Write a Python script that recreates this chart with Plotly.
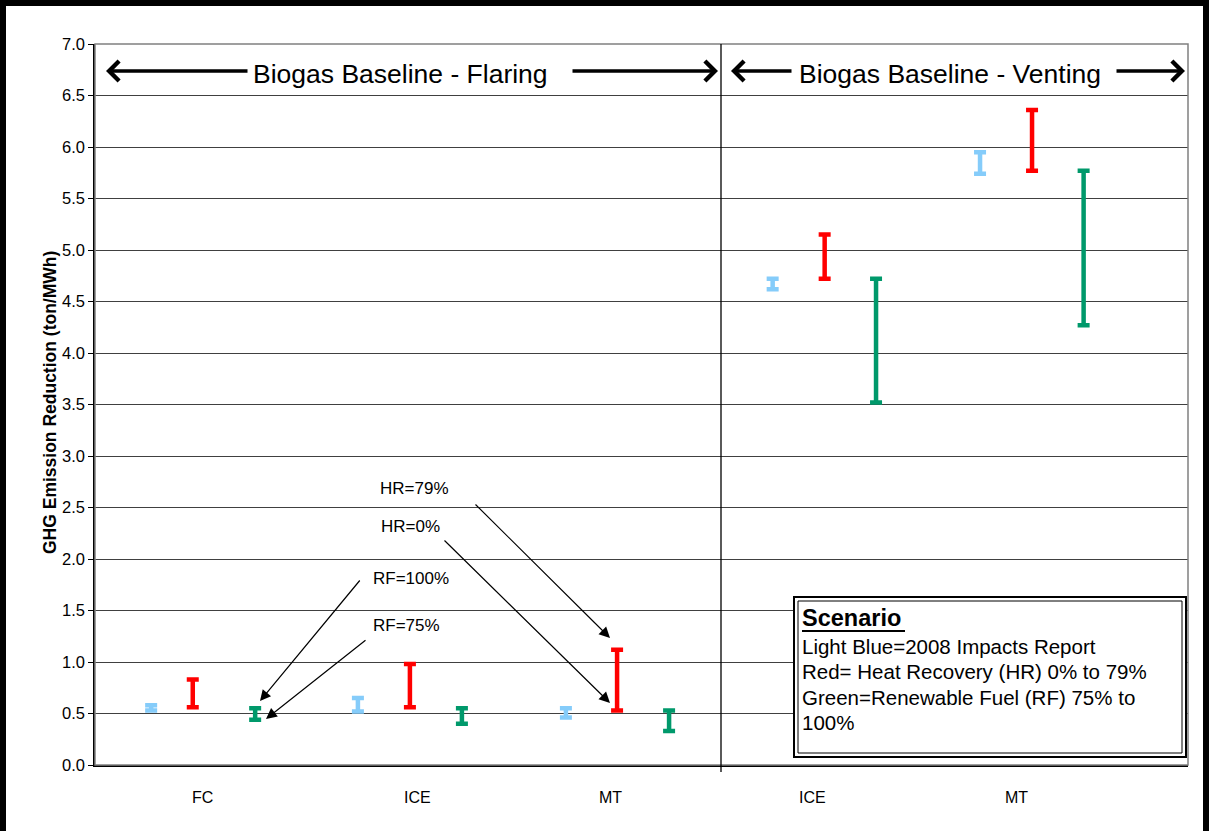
import plotly.graph_objects as go

# ---------------- data ----------------
categories = ["FC", "ICE", "MT", "ICE", "MT"]
category_pos = [0.515, 1.55, 2.48, 3.45, 4.43]

blue_x = [0.27, 1.264, 2.264, 3.258, 4.255]
red_x = [0.47, 1.514, 2.51, 3.508, 4.505]
green_x = [0.77, 1.764, 2.76, 3.755, 4.753]

blue_low = [0.53, 0.52, 0.46, 4.62, 5.74]
blue_high = [0.58, 0.65, 0.55, 4.72, 5.95]
red_low = [0.56, 0.56, 0.53, 4.72, 5.77]
red_high = [0.83, 0.98, 1.12, 5.15, 6.36]
green_low = [0.44, 0.40, 0.33, 3.52, 4.27]
green_high = [0.55, 0.55, 0.53, 4.72, 5.77]

series = [
    ("2008 Impacts Report", blue_x, blue_low, blue_high, "#85CCFA"),
    ("Heat Recovery", red_x, red_low, red_high, "#FF0000"),
    ("Renewable Fuel", green_x, green_low, green_high, "#00996B"),
]

FONT = "Arial, Liberation Sans, sans-serif"
W, H = 1209, 831
L, R, T, B = 95, 1188, 44, 765
XMAX = (R - L) / 208.0


def px(x):
    return (x - L) / (R - L)


def py(y):
    return (B - y) / (B - T)


fig = go.Figure()
for name, xs, lo, hi, col in series:
    fig.add_trace(go.Scatter(
        x=xs, y=lo, mode="markers", name=name,
        marker=dict(size=2, opacity=0),
        error_y=dict(type="data", symmetric=False,
                     array=[h - l for h, l in zip(hi, lo)],
                     arrayminus=[0] * len(lo),
                     color=col, thickness=4.5, width=6),
        showlegend=False, hoverinfo="skip",
    ))

shapes = []
annotations = []

# plot border (gray top/right)
shapes.append(dict(type="rect", xref="paper", yref="paper", x0=0, x1=1, y0=0, y1=1,
                   line=dict(color="#808080", width=1.5), layer="above"))
# divider line
shapes.append(dict(type="line", xref="paper", yref="paper", x0=px(721), x1=px(721),
                   y0=py(772), y1=1, line=dict(color="black", width=1.3)))
# outer frame
for (x0, y0, x1, y1) in [(3, 3, 3, 835), (0, 3, 1209, 3), (1206, 3, 1206, 835)]:
    shapes.append(dict(type="line", xref="paper", yref="paper",
                       x0=px(x0), x1=px(x1), y0=py(y0), y1=py(y1),
                       line=dict(color="black", width=6)))

# scenario box
shapes.append(dict(type="rect", xref="paper", yref="paper",
                   x0=px(794), x1=px(1186), y0=py(757), y1=py(597),
                   line=dict(color="black", width=2), fillcolor="white", layer="above"))
shapes.append(dict(type="rect", xref="paper", yref="paper",
                   x0=px(798), x1=px(1182), y0=py(753), y1=py(601),
                   line=dict(color="black", width=1), layer="above"))
shapes.append(dict(type="line", xref="paper", yref="paper",
                   x0=px(802), x1=px(905), y0=py(631), y1=py(631),
                   line=dict(color="black", width=2), layer="above"))

box_lines = [
    ("<b>Scenario</b>", 618, 23.5),
    ("Light Blue=2008 Impacts Report", 646, 20.5),
    ("Red= Heat Recovery (HR) 0% to 79%", 671, 20.5),
    ("Green=Renewable Fuel (RF) 75% to", 697, 20.5),
    ("100%", 722, 20.5),
]
for txt, yy, fs in box_lines:
    annotations.append(dict(xref="paper", yref="paper", x=px(800), y=py(yy),
                            text=txt, showarrow=False, xanchor="left", yanchor="middle",
                            font=dict(family=FONT, size=fs, color="black")))

# banner texts and arrows
for txt, cx in [("Biogas Baseline - Flaring", 400), ("Biogas Baseline - Venting", 950)]:
    annotations.append(dict(xref="paper", yref="paper", x=px(cx), y=py(74), text=txt,
                            showarrow=False, xanchor="center", yanchor="middle",
                            font=dict(family=FONT, size=26.5, color="black")))


def arrow(tail, tip, **kw):
    (tx, ty), (hx, hy) = tail, tip
    return dict(xref="paper", yref="paper", axref="pixel", ayref="pixel",
                x=px(hx), y=py(hy), ax=tx - hx, ay=ty - hy, text="",
                showarrow=True, arrowcolor="black", standoff=0, **kw)


for tail, tip in [(249, 106), (571, 718), (793, 731), (1115, 1185)]:
    annotations.append(arrow((tail, 71), (tip, 71), arrowhead=4, arrowsize=1.1, arrowwidth=3.5))

# pointer labels
for txt, lx, ly in [("HR=79%", 378, 489), ("HR=0%", 379, 526),
                    ("RF=100%", 371, 578), ("RF=75%", 371, 625)]:
    annotations.append(dict(xref="paper", yref="paper", x=px(lx), y=py(ly), text=txt,
                            showarrow=False, xanchor="left", yanchor="middle",
                            font=dict(family=FONT, size=17, color="black")))
for tail, tip in [((474, 503), (610, 638)), ((443, 539), (610, 703)),
                  ((361, 579), (260, 701)), ((367, 639), (266, 719))]:
    annotations.append(arrow(tail, tip, arrowhead=2, arrowsize=1.8, arrowwidth=1.2))

# category labels
for lab, pos in zip(categories, category_pos):
    annotations.append(dict(xref="x", yref="paper", x=pos, y=py(797), text=lab,
                            showarrow=False, xanchor="center", yanchor="middle",
                            font=dict(family=FONT, size=16, color="black")))

# y-axis title
annotations.append(dict(xref="paper", yref="paper", x=px(50), y=py(403),
                        text="<b>GHG Emission Reduction (ton/MWh)</b>", textangle=-90,
                        showarrow=False, xanchor="center", yanchor="middle",
                        font=dict(family=FONT, size=17.5, color="black")))

fig.update_layout(
    width=W, height=H,
    margin=dict(l=L, r=W - R, t=T, b=H - B, pad=0),
    paper_bgcolor="white", plot_bgcolor="white",
    showlegend=False,
    xaxis=dict(range=[0, XMAX], showticklabels=False, showgrid=False, zeroline=False,
               showline=True, linecolor="black", linewidth=1.5, ticks=""),
    yaxis=dict(range=[0, 7], dtick=0.5, tickformat=".1f", showgrid=True,
               gridcolor="#404040", gridwidth=1, zeroline=False,
               showline=True, linecolor="black", linewidth=1.5,
               ticks="outside", ticklen=5, tickcolor="black",
               tickfont=dict(family=FONT, size=16.5, color="black")),
    shapes=shapes, annotations=annotations,
)

fig.write_html("out.html", config={"displayModeBar": False},
               post_script="document.body.style.margin='0';document.body.style.overflow='hidden';")
